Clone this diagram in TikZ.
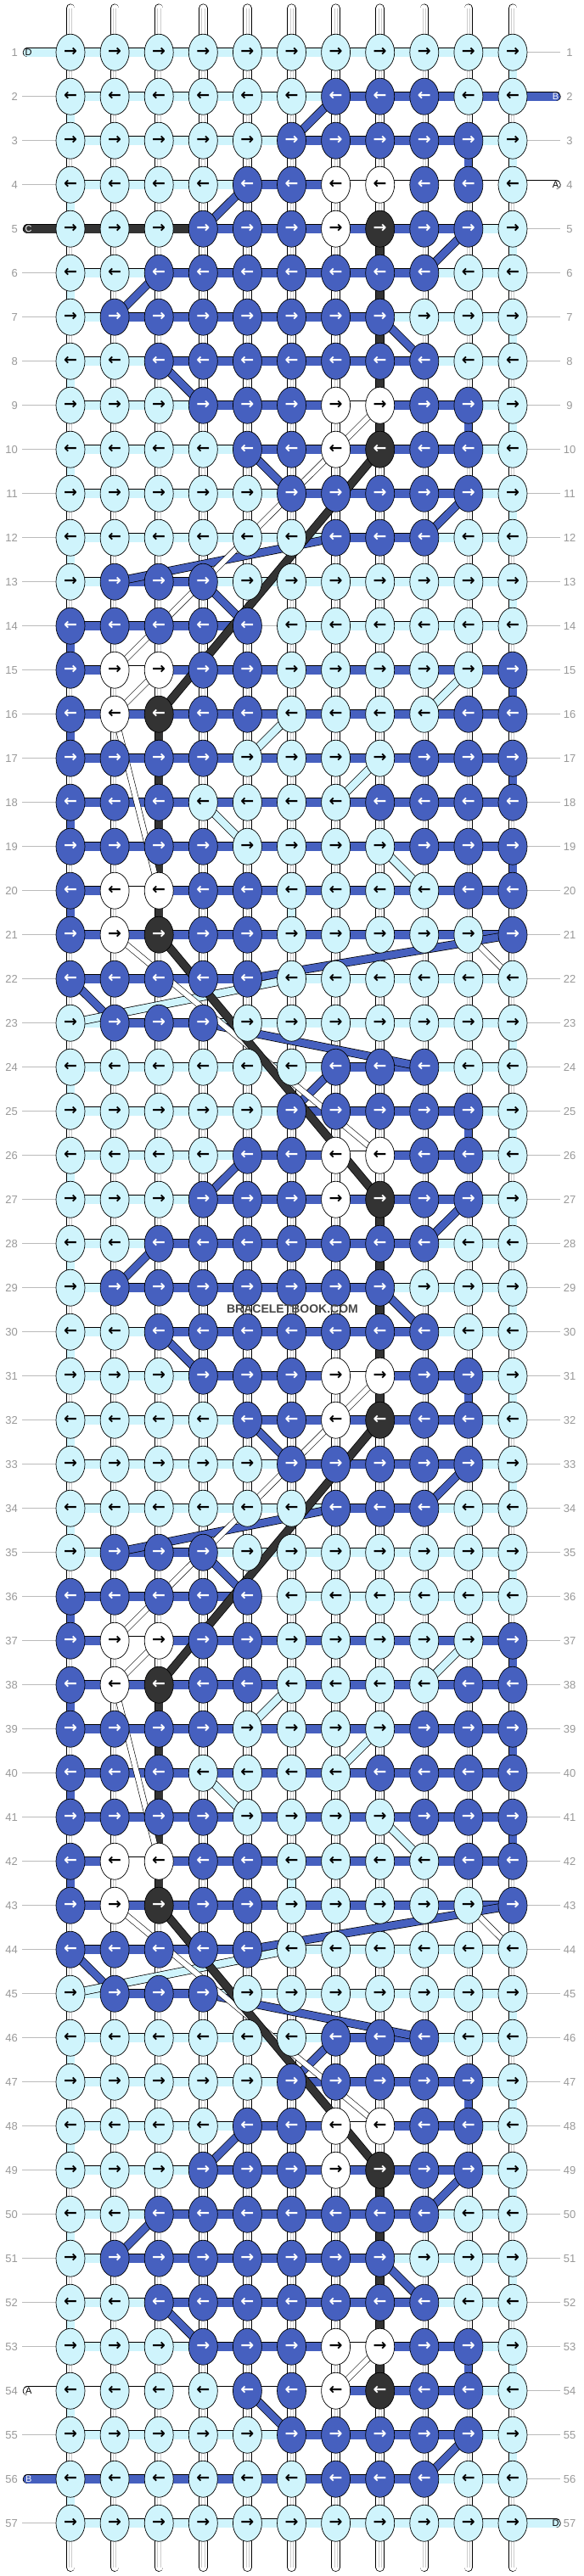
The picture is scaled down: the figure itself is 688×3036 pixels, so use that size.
\documentclass[tikz,border=0pt]{standalone}
\usepackage{fontspec}
\usepackage{xstring}
\setmainfont{Liberation Sans}
\newfontfamily\arrfont{DejaVu Sans}
\usetikzlibrary{shapes.geometric}
\definecolor{cL}{HTML}{CFF4FC}
\definecolor{cB}{HTML}{4660BF}
\definecolor{cW}{HTML}{FFFFFF}
\definecolor{cK}{HTML}{333333}
\definecolor{lblgray}{HTML}{999999}
\definecolor{linegray}{HTML}{BBBBBB}
\tikzset{
 knot/.style={ellipse, draw=black, line width=0.7pt, minimum width=34pt, minimum height=43pt, inner sep=0pt, font=\arrfont\bfseries\fontsize{19}{19}\selectfont},
 seg/.style={line width=0.75pt, draw=black, double distance=10pt},
 vseg/.style={line width=0.75pt, draw=black, double distance=9pt},
 diag/.style={line width=0.75pt, draw=black, double distance=8.5pt},
 wdiag/.style={line width=0.6pt, draw=black, double=white, double distance=6pt},
 lbl/.style={text=lblgray, font=\fontsize{13}{13}\selectfont, inner sep=0pt},
 lline/.style={draw=linegray, line width=0.8pt},
 endlbl/.style={font=\fontsize{11}{11}\selectfont, inner sep=0pt},
}
\def\rowdata{1/LLLLLLLLLLL/LLLLLLLLLL,
2/LLLLLLBBBLL/LLLLLLBBBB,
3/LLLLLBBBBBL/LLLLLBBBBL,
4/LLLLBBWWBBL/LLLLBBWWWW,
5/LLLBBBWKBBL/KKKBBBBBBL,
6/LLBBBBBBBLL/LLBBBBBBLL,
7/LBBBBBBBLLL/LBBBBBBLLL,
8/LLBBBBBBBLL/LLBBBBBBLL,
9/LLLBBBWWBBL/LLLBBBWBBL,
10/LLLLBBWKBBL/LLLLBBBBBL,
11/LLLLLBBBBBL/LLLLLBBBBL,
12/LLLLLLBBBLL/LLLLLLBBLL,
13/LBBBLLLLLLL/LBBLLLLLLL,
14/BBBBBLLLLLL/BBBBNLLLLL,
15/BWWBBLLLLLB/BWBBBBBBBB,
16/BWKBBLLLLBB/BBBBBBBBBB,
17/BBBBLLLLBBB/BBBBBBBBBB,
18/BBBLLLLBBBB/BBBBBBBBBB,
19/BBBBLLLLBBB/BBBBBBBBBB,
20/BWWBBLLLLBB/BWBBBBBBBB,
21/BWKBBLLLLLB/BBBBBBBBBB,
22/BBBBBLLLLLL/BBBBLLLLLL,
23/LBBBLLLLLLL/LBBLLLLLLL,
24/LLLLLLBBBLL/LLLLLLBBLL,
25/LLLLLBBBBBL/LLLLLBBBBL,
26/LLLLBBWWBBL/LLLLBBWBBL,
27/LLLBBBWKBBL/LLLBBBBBBL,
28/LLBBBBBBBLL/LLBBBBBBLL,
29/LBBBBBBBLLL/LBBBBBBLLL,
30/LLBBBBBBBLL/LLBBBBBBLL,
31/LLLBBBWWBBL/LLLBBBWBBL,
32/LLLLBBWKBBL/LLLLBBBBBL,
33/LLLLLBBBBBL/LLLLLBBBBL,
34/LLLLLLBBBLL/LLLLLLBBLL,
35/LBBBLLLLLLL/LBBLLLLLLL,
36/BBBBBLLLLLL/BBBBNLLLLL,
37/BWWBBLLLLLB/BWBBBBBBBB,
38/BWKBBLLLLBB/BBBBBBBBBB,
39/BBBBLLLLBBB/BBBBBBBBBB,
40/BBBLLLLBBBB/BBBBBBBBBB,
41/BBBBLLLLBBB/BBBBBBBBBB,
42/BWWBBLLLLBB/BWBBBBBBBB,
43/BWKBBLLLLLB/BBBBBBBBBB,
44/BBBBBLLLLLL/BBBBLLLLLL,
45/LBBBLLLLLLL/LBBLLLLLLL,
46/LLLLLLBBBLL/LLLLLLBBLL,
47/LLLLLBBBBBL/LLLLLBBBBL,
48/LLLLBBWWBBL/LLLLBBWBBL,
49/LLLBBBWKBBL/LLLBBBBBBL,
50/LLBBBBBBBLL/LLBBBBBBLL,
51/LBBBBBBBLLL/LBBBBBBLLL,
52/LLBBBBBBBLL/LLBBBBBBLL,
53/LLLBBBWWBBL/LLLBBBWBBL,
54/LLLLBBWKBBL/WWWWWWBBBL,
55/LLLLLBBBBBL/LLLLLBBBBL,
56/LLLLLLBBBLL/BBBBBBBBLL,
57/LLLLLLLLLLL/LLLLLLLLLL}
\begin{document}
\begin{tikzpicture}[x=52.1pt,y=-52pt]
\path[use as bounding box, fill=white] (0pt,0pt) rectangle (688pt,-3036pt);
\begin{scope}[shift={(30.9pt,-9.7pt)}]
% coordinates
\foreach \rr in {1,...,57} {
  \foreach \ci in {1,...,11} { \coordinate (p-\rr-\ci) at (\ci,\rr); }
}
% background vertical strings
\foreach \ci in {1,...,11} {
  \coordinate (t-\ci) at (\ci,0);
  \coordinate (b-\ci) at (\ci,58);
  \draw[vseg, double=white, line cap=round] (t-\ci) -- (b-\ci);
  \draw[draw=gray!40, line width=0.45pt] ([xshift=-1.6pt]t-\ci) -- ([xshift=-1.6pt]b-\ci);
  \draw[draw=gray!40, line width=0.45pt] ([xshift=1.6pt]t-\ci) -- ([xshift=1.6pt]b-\ci);
}
% coloured vertical segments
\foreach \gi in {1,3,5,7,9,11,13,23,25,27,29,31,33,35,45,47,49,51,53,55} {
  \pgfmathtruncatemacro\gj{\gi+1}
  \draw[vseg, double=cL] (p-\gi-11) -- (p-\gj-11);
}
\foreach \gi in {15,17,19,37,39,41} {
  \pgfmathtruncatemacro\gj{\gi+1}
  \draw[vseg, double=cB] (p-\gi-11) -- (p-\gj-11);
}
\foreach \gi in {2,4,6,8,10,12,24,26,28,30,32,34,46,48,50,52,54,56} {
  \pgfmathtruncatemacro\gj{\gi+1}
  \draw[vseg, double=cL] (p-\gi-1) -- (p-\gj-1);
}
\foreach \gi in {14,16,18,20,36,38,40,42} {
  \pgfmathtruncatemacro\gj{\gi+1}
  \draw[vseg, double=cB] (p-\gi-1) -- (p-\gj-1);
}
\foreach \gi in {3,9,25,31,47,53} {
  \pgfmathtruncatemacro\gj{\gi+1}
  \draw[vseg, double=cB] (p-\gi-10) -- (p-\gj-10);
}
\foreach \gi in {5,6,7,8,9,27,28,29,30,31,49,50,51,52,53} {
  \pgfmathtruncatemacro\gj{\gi+1}
  \draw[vseg, double=cK] (p-\gi-8) -- (p-\gj-8);
}
\foreach \gi in {16,17,18,19,20,38,39,40,41,42} {
  \pgfmathtruncatemacro\gj{\gi+1}
  \draw[vseg, double=cK] (p-\gi-3) -- (p-\gj-3);
}
\foreach \gi in {20,42} {
  \pgfmathtruncatemacro\gj{\gi+1}
  \draw[vseg, double=cL] (p-\gi-6) -- (p-\gj-6);
}
% horizontal segments
\foreach \rr/\kn/\sg in \rowdata {
  \foreach \ci in {1,...,10} {
    \pgfmathtruncatemacro\cj{\ci+1}
    \StrChar{\sg}{\ci}[\sgc]
    \IfStrEq{\sgc}{N}{\draw[lline] (p-\rr-\ci) -- (p-\rr-\cj);}{\draw[seg, double=c\sgc] (p-\rr-\ci) -- (p-\rr-\cj);}
  }
}
% row label lines
\foreach \rr in {1,...,57} {
  \coordinate (la-\rr) at (-0.094,\rr);
  \coordinate (ra-\rr) at (12.075,\rr);
  \IfSubStr{,1,5,54,56,}{,\rr,}{}{\draw[lline] (la-\rr) -- (p-\rr-1);}
  \IfSubStr{,2,4,57,}{,\rr,}{}{\draw[lline] (p-\rr-11) -- (ra-\rr);}
  \node[lbl, anchor=east] (nl-\rr) at (-0.19,\rr) {\rr};
  \node[lbl] (nr-\rr) at (12.286,\rr) {\rr};
}
% thread ends
\foreach \rr/\lt/\col/\tc in {1/D/L/black, 5/C/K/white, 54/A/W/black, 56/B/B/white} {
  \coordinate (le-\rr) at (0.031,\rr);
  \draw[seg, double=c\col, line cap=round] (le-\rr) -- (p-\rr-1);
  \node[endlbl, text=\tc] (lt-\rr) at (0.054,\rr) {\lt};
}
\foreach \rr/\lt/\col/\tc in {2/B/B/white, 4/A/W/black, 57/D/L/black} {
  \coordinate (re-\rr) at (11.977,\rr);
  \draw[seg, double=c\col, line cap=round] (p-\rr-11) -- (re-\rr);
  \node[endlbl, text=\tc] (rt-\rr) at (11.969,\rr) {\lt};
}
% diagonal strings
\foreach \ra/\ca/\rb/\cb in {2/7/3/6, 24/7/25/6, 46/7/47/6, 4/5/5/4, 26/5/27/4, 48/5/49/4, 5/10/6/9, 27/10/28/9, 49/10/50/9, 6/3/7/2, 28/3/29/2, 50/3/51/2, 7/8/8/9, 29/8/30/9, 51/8/52/9, 8/3/9/4, 30/3/31/4, 52/3/53/4, 10/5/11/6, 32/5/33/6, 54/5/55/6, 11/10/12/9, 33/10/34/9, 55/10/56/9, 12/7/13/2, 34/7/35/2, 13/4/14/5, 35/4/36/5, 21/11/22/5, 43/11/44/5, 22/1/23/2, 44/1/45/2, 23/4/24/9, 45/4/46/9} {
  \draw[diag, double=cB] (p-\ra-\ca) -- (p-\rb-\cb);
}
\foreach \ra/\ca/\rb/\cb in {15/10/16/9, 37/10/38/9, 16/6/17/5, 38/6/39/5, 17/8/18/7, 39/8/40/7, 18/4/19/5, 40/4/41/5, 19/8/20/9, 41/8/42/9, 22/6/23/1, 44/6/45/1} {
  \draw[diag, double=cL] (p-\ra-\ca) -- (p-\rb-\cb);
}
\foreach \ra/\ca/\rb/\cb in {9/8/15/2, 31/8/37/2, 53/8/54/7, 15/3/16/2, 37/3/38/2, 16/2/20/3, 38/2/42/3, 21/2/26/8, 43/2/48/8, 21/10/22/11, 43/10/44/11} {
  \draw[wdiag] (p-\ra-\ca) -- (p-\rb-\cb);
}
\foreach \ra/\ca/\rb/\cb in {10/8/16/3, 32/8/38/3, 21/3/27/8, 43/3/49/8} {
  \draw[diag, double=cK] (p-\ra-\ca) -- (p-\rb-\cb);
}
% knots
\foreach \rr/\kn/\sg in \rowdata {
  \foreach \ci in {1,...,11} {
    \StrChar{\kn}{\ci}[\col]
    \def\tc{black}
    \IfStrEq{\col}{B}{\def\tc{white}}{}
    \IfStrEq{\col}{K}{\def\tc{white}}{}
    \ifodd\rr\relax \def\arr{→}\else \def\arr{←}\fi
    \node[knot, fill=c\col, text=\tc] (k-\rr-\ci) at (p-\rr-\ci) {\arr};
  }
}
\node[font=\bfseries\fontsize{14}{14}\selectfont, text=cK!90, inner sep=0pt] (wm) at (6.019,29.486) {BRACELETBOOK.COM};
\end{scope}
\end{tikzpicture}
\end{document}
